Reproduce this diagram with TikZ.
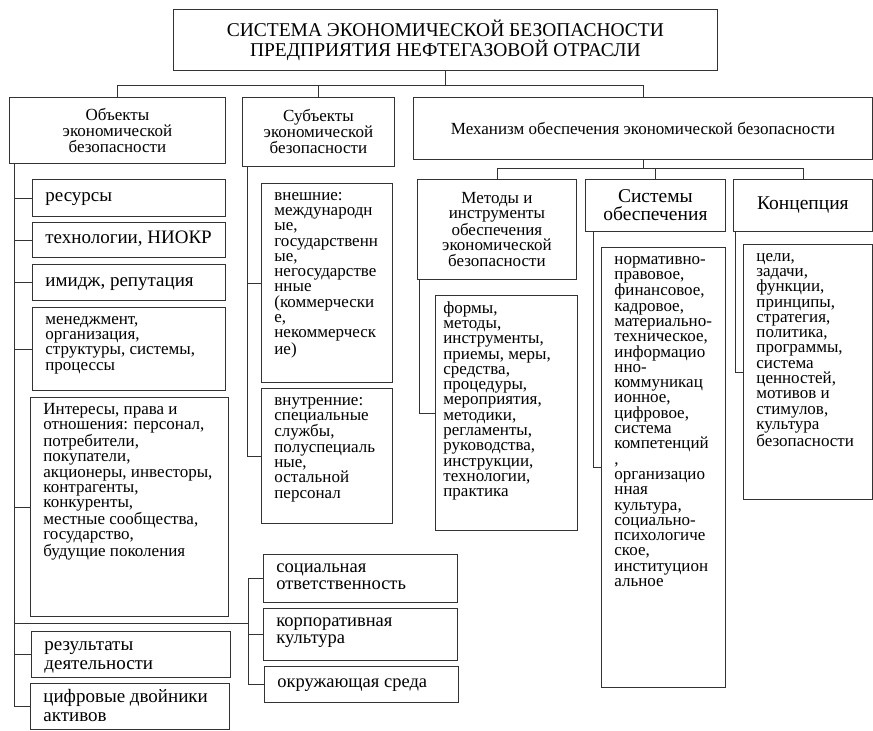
\documentclass[tikz,border=0pt]{standalone}
\usepackage{fontspec}
\setmainfont{Liberation Serif}
% text of a list box: top (or centre) aligned, left margin \cellindent
\newlength{\cellindent}
\setlength{\cellindent}{13pt}
\newcommand{\celltext}[4][t]{\parbox[t][\dimexpr#3pt-12pt\relax][#1]{#2pt}{\raggedright\leftskip=\cellindent\hyphenpenalty=10000\strut#4}}

\begin{document}
\begin{tikzpicture}[x=1pt,y=-1pt,
  hdr/.style={draw=black!80,line width=0.8pt,anchor=north west,align=center,inner sep=0pt,
    font=\fontsize{17}{16}\selectfont},
  item/.style={draw=black!80,line width=0.8pt,anchor=north west,inner xsep=0pt,inner ysep=6pt,
    font=\fontsize{17}{15.3}\selectfont},
  big/.style={font=\fontsize{19}{19}\selectfont},
  link/.style={draw=black!80,line width=0.8pt}]
  \useasboundingbox (0,0) rectangle (873,731);
  % Title and the three branches
  \node[hdr,minimum width=544pt,minimum height=61pt,font=\fontsize{19.5}{20}\selectfont] (title) at (173,9)
    {СИСТЕМА ЭКОНОМИЧЕСКОЙ БЕЗОПАСНОСТИ\\ПРЕДПРИЯТИЯ НЕФТЕГАЗОВОЙ ОТРАСЛИ};
  \node[hdr,minimum width=216pt,minimum height=66pt] (obj) at (9,97)
    {Объекты\\экономической\\безопасности};
  \node[hdr,minimum width=152pt,minimum height=69pt] (subj) at (242,97)
    {Субъекты\\экономической\\безопасности};
  \node[hdr,minimum width=459pt,minimum height=62pt] (mech) at (413,97)
    {Механизм обеспечения экономической безопасности};
  \draw[link] (title.south) -- ++(0,15) coordinate (bus1);
  \draw[link] (obj.north) |- (bus1) -| (mech.north);
  \draw[link] (subj.north) -- (subj.north |- bus1);
  % Mechanism: second level
  \node[hdr,minimum width=159pt,minimum height=100pt,font=\fontsize{17}{15.3}\selectfont] (meth) at (417,179)
    {Методы и\\инструменты\\обеспечения\\экономической\\безопасности};
  \node[hdr,minimum width=140pt,minimum height=52pt,font=\fontsize{19.5}{18}\selectfont] (sys) at (585,179)
    {Системы\\обеспечения};
  \node[hdr,minimum width=139pt,minimum height=52pt,font=\fontsize{19.5}{18}\selectfont] (conc) at (733,179)
    {Концепция};
  \draw[link] (mech.south) -- ++(0,9) coordinate (bus2);
  \draw[link] (meth.north) |- (bus2) -| (conc.north);
  \draw[link] (sys.north) -- (sys.north |- bus2);
  % Objects
  \node[item,big] (res) at (32,179) {\celltext[c]{193}{37}{ресурсы}};
  \node[item,big] (tech) at (32,222) {\celltext[c]{193}{35}{технологии, НИОКР}};
  \node[item,big] (img) at (32,264) {\celltext[c]{193}{36}{имидж, репутация}};
  \node[item] (mgmt) at (32,307) {\celltext{193}{83}{менеджмент,\\организация,\\структуры, системы,\\процессы}};
  \node[item] (intr) at (30,397) {\celltext{198}{219}{Интересы, права и\\отношения: персонал,\\потребители,\\покупатели,\\акционеры, инвесторы,\\контрагенты,\\конкуренты,\\местные сообщества,\\государство,\\будущие поколения}};
  \node[item,big] (rez) at (31,631) {\celltext{199}{46}{результаты\\деятельности}};
  \node[item,big] (dig) at (30,683) {\celltext{199}{46}{цифровые двойники\\активов}};
  \coordinate (objspine) at ([xshift=5pt]obj.south west);
  \draw[link] (objspine) -- (objspine |- dig.west) -- (dig.west);
  \foreach \n in {res,tech,img,mgmt,intr,rez}
    \draw[link] (objspine |- \n.west) -- (\n.west);
  % Objects: responsibility group
  \node[item,font=\fontsize{18.5}{17}\selectfont] (soc) at (263,554) {\celltext{194}{48}{социальная\\ответственность}};
  \node[item,font=\fontsize{18.5}{17}\selectfont] (corp) at (263,608) {\celltext{194}{52}{корпоративная\\культура}};
  \node[item,font=\fontsize{18.5}{17}\selectfont] (env) at (264,666) {\celltext[c]{194}{36}{окружающая среда}};
  \coordinate (grpspine) at ([xshift=-15pt]soc.west);
  \coordinate (grpbus) at ([yshift=-7pt]intr.south);
  \draw[link] (objspine |- grpbus) -- (grpspine |- grpbus);
  \draw[link] (soc.west) -- (grpspine) -- (grpspine |- env.west) -- (env.west);
  \draw[link] (grpspine |- corp.west) -- (corp.west);
  % Subjects
  \node[item] (ext) at (261,183) {\celltext{131}{199}{внешние:\\международн\\ые,\\государственн\\ые,\\негосударстве\\нные\\(коммерчески\\е,\\некоммерческ\\ие)}};
  \node[item] (int) at (261,388) {\celltext{131}{135}{внутренние:\\специальные\\службы,\\полуспециаль\\ные,\\остальной\\персонал}};
  \coordinate (subjspine) at ([xshift=5pt]subj.south west);
  \draw[link] (subjspine) -- (subjspine |- int.west) -- (int.west);
  \draw[link] (subjspine |- ext.west) -- (ext.west);
  % Mechanism: contents
  \node[item] (mlist) at (435,295) {\setlength{\cellindent}{8pt}\celltext{142}{235}{формы,\\методы,\\инструменты,\\приемы, меры,\\средства,\\процедуры,\\мероприятия,\\методики,\\регламенты,\\руководства,\\инструкции,\\технологии,\\практика}};
  \node[item] (slist) at (601,247) {\celltext{124}{440}{нормативно-\\правовое,\\финансовое,\\кадровое,\\материально-\\техническое,\\информацио\\нно-\\коммуникац\\ионное,\\цифровое,\\система\\компетенций\\,\\организацио\\нная\\культура,\\социально-\\психологиче\\ское,\\институцион\\альное}};
  \node[item] (clist) at (743,244) {\celltext{129}{255}{цели,\\задачи,\\функции,\\принципы,\\стратегия,\\политика,\\программы,\\система\\ценностей,\\мотивов и\\стимулов,\\культура\\безопасности}};
  \draw[link] ([xshift=2pt]meth.south west) |- (mlist.west);
  \draw[link] ([xshift=8pt]sys.south west) |- (slist.west);
  \draw[link] ([xshift=2pt]conc.south west) |- (clist.west);
\end{tikzpicture}
\end{document}
